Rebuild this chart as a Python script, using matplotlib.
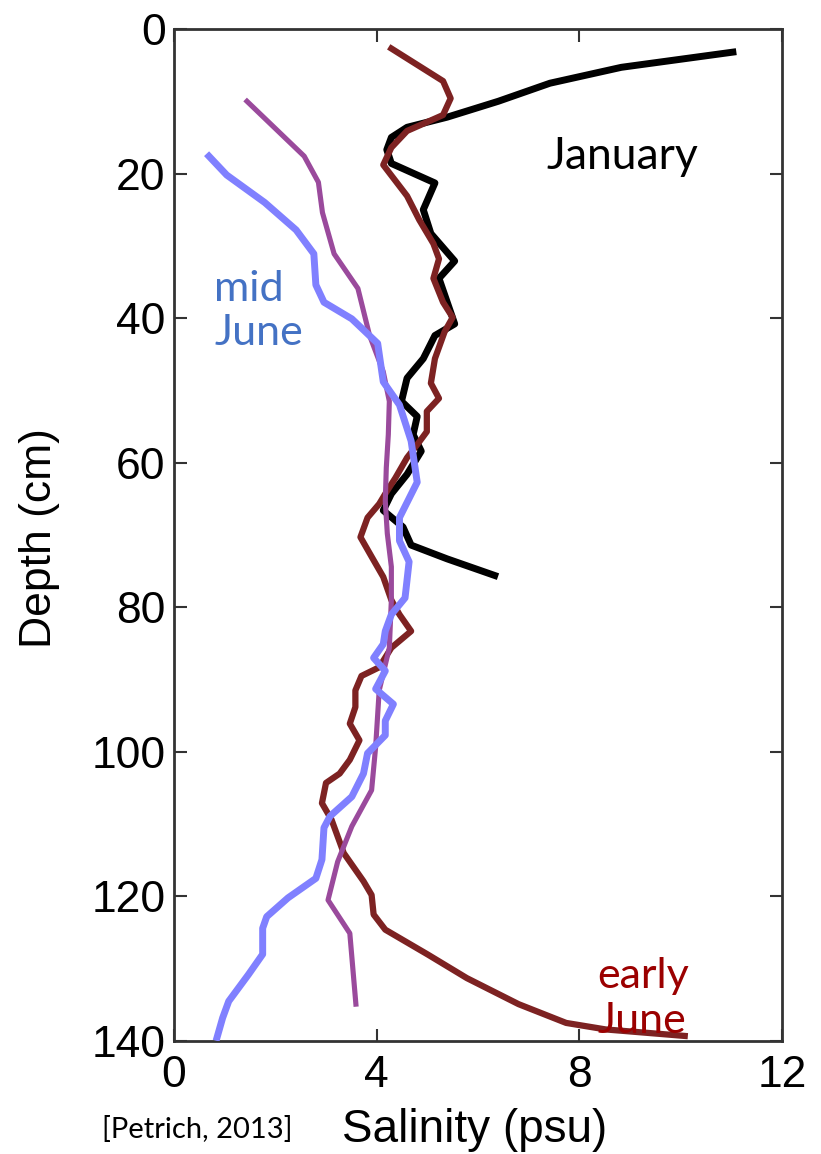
import matplotlib
matplotlib.use("Agg")
import matplotlib.pyplot as plt

# ---------------- data ----------------
jan_depth = [3.2, 5.3, 7.5, 10.0, 12.2, 13.6, 15.0, 16.7, 18.6, 21.3, 25.0, 28.3, 32.1, 34.5,
             40.8, 42.4, 45.6, 48.3, 51.5, 53.6, 56.1, 58.4, 61.6, 64.3, 66.6, 68.9, 71.4, 73.3, 75.6]
jan_sal = [11.03, 8.83, 7.42, 6.40, 5.39, 4.6, 4.29, 4.2, 4.29, 5.15, 4.92, 5.07, 5.54, 5.23,
           5.54, 5.15, 4.92, 4.6, 4.49, 4.8, 4.72, 4.88, 4.6, 4.29, 4.13, 4.52, 4.68, 5.39, 6.33]

early_depth = [2.7, 7.2, 9.6, 11.9, 14.1, 16.4, 18.8, 23.1, 26.4, 29.7, 31.8, 34.5, 37.8, 39.9,
               41.9, 45.6, 49.0, 51.1, 52.9, 55.7, 57.5, 59.3, 62.1, 64.3, 65.7, 67.6, 70.3, 73.0,
               75.8, 79.0, 81.0, 83.3, 85.6, 88.3, 89.5, 91.5, 93.8, 96.1, 98.4, 101.1, 103.0,
               104.3, 107.1, 109.4, 114.0, 117.9, 119.8, 122.5, 124.6, 128.0, 131.3, 134.9, 137.5,
               138.4, 139.3]
early_sal = [4.29, 5.31, 5.46, 5.31, 4.6, 4.29, 4.13, 4.6, 4.84, 5.12, 5.23, 5.12, 5.31, 5.5,
             5.34, 5.15, 5.07, 5.23, 4.99, 4.99, 4.8, 4.6, 4.37, 4.17, 4.05, 3.82, 3.68, 3.9,
             4.13, 4.29, 4.45, 4.68, 4.29, 4.05, 3.7, 3.58, 3.58, 3.47, 3.66, 3.47, 3.27,
             3.0, 2.92, 3.11, 3.35, 3.74, 3.9, 3.94, 4.17, 5.0, 5.78, 6.8, 7.74,
             8.52, 10.08]

mid_depth = [17.6, 20.2, 24.0, 27.8, 31.1, 35.4, 37.8, 40.1, 43.5, 48.8, 52.0, 57.0, 62.7, 67.6,
             70.8, 73.7, 78.7, 81.0, 83.3, 85.1, 87.0, 88.8, 91.3, 93.4, 95.7, 97.7, 100.2, 103.0,
             106.2, 108.9, 110.5, 114.9, 117.5, 120.2, 122.8, 124.4, 128.0, 130.8, 134.5, 136.8, 139.5]
mid_sal = [0.69, 1.04, 1.79, 2.41, 2.76, 2.8, 2.96, 3.51, 4.02, 4.13, 4.45, 4.68, 4.8, 4.45,
           4.45, 4.64, 4.56, 4.29, 4.17, 4.13, 3.94, 4.17, 3.98, 4.33, 4.17, 4.17, 3.82, 3.74,
           3.51, 3.08, 2.96, 2.92, 2.8, 2.25, 1.83, 1.75, 1.75, 1.47, 1.08, 0.96, 0.85]

late_depth = [10.0, 17.6, 21.2, 25.4, 31.1, 35.9, 42.4, 47.4, 51.5, 56.1, 60.7, 65.3, 69.8, 74.4,
              79.0, 85.6, 91.5, 99.3, 105.3, 110.3, 115.2, 120.5, 125.1, 134.9]
late_sal = [1.44, 2.57, 2.85, 2.93, 3.16, 3.63, 3.86, 4.13, 4.25, 4.23, 4.19, 4.17, 4.21, 4.29,
            4.29, 4.25, 4.05, 3.98, 3.9, 3.51, 3.23, 3.04, 3.47, 3.59]

x_ticks = [0, 4, 8, 12]
y_ticks = [0, 20, 40, 60, 80, 100, 120, 140]

# ---------------- figure ----------------
W, H = 821, 1154
fig = plt.figure(figsize=(W / 100, H / 100), dpi=100)
left, right, top, bottom = 174, 782, 29, 1041
ax = fig.add_axes([left / W, 1 - bottom / H, (right - left) / W, (bottom - top) / H])

ax.plot(jan_sal, jan_depth, color="#000000", lw=5.0, zorder=2)
ax.plot(early_sal, early_depth, color="#7d2222", lw=4.5, zorder=3)
ax.plot(late_sal, late_depth, color="#9a4a9c", lw=3.7, zorder=4)
ax.plot(mid_sal, mid_depth, color="#8080ff", lw=5.0, zorder=5)

ax.set_xlim(0, 12)
ax.set_ylim(140, 0)
ax.set_xticks(x_ticks)
ax.set_yticks(y_ticks)
ax.set_xticklabels([str(v) for v in x_ticks])
ax.set_yticklabels([str(v) for v in y_ticks])

tick_font = "Liberation Sans"
for lab in ax.get_xticklabels() + ax.get_yticklabels():
    lab.set_fontfamily(tick_font)
    lab.set_fontsize(32)
ax.tick_params(direction="in", length=9, width=1.5, color="#333333",
               top=True, right=True)
ax.tick_params(axis="x", pad=10)
ax.tick_params(axis="y", pad=6)
for s in ax.spines.values():
    s.set_linewidth(2.0)
    s.set_color("#333333")

# labels
fig.text(475 / W, 1 - 1130 / H, "Salinity (psu)", fontsize=33, family=tick_font,
         ha="center", va="center")
fig.text(40 / W, 1 - 538 / H, "Depth (cm)", fontsize=32, family=tick_font,
         ha="center", va="center", rotation=90)
fig.text(197 / W, 1 - 1130 / H, "[Petrich, 2013]", fontsize=21, family="Lato",
         ha="center", va="center")

# annotations
ax.text(7.36, 17.7, "January", fontsize=32, family="Lato", color="black",
        ha="left", va="center", zorder=6)
ax.text(0.79, 39.0, "mid\nJune", fontsize=31, family="Lato", color="#4472c4",
        ha="left", va="center", linespacing=1.22, zorder=6)
ax.text(8.35, 134.1, "early\nJune", fontsize=31, family="Lato", color="#9b0000",
        ha="left", va="center", linespacing=1.22, zorder=6, clip_on=False)

fig.savefig("out.png", dpi=100)
